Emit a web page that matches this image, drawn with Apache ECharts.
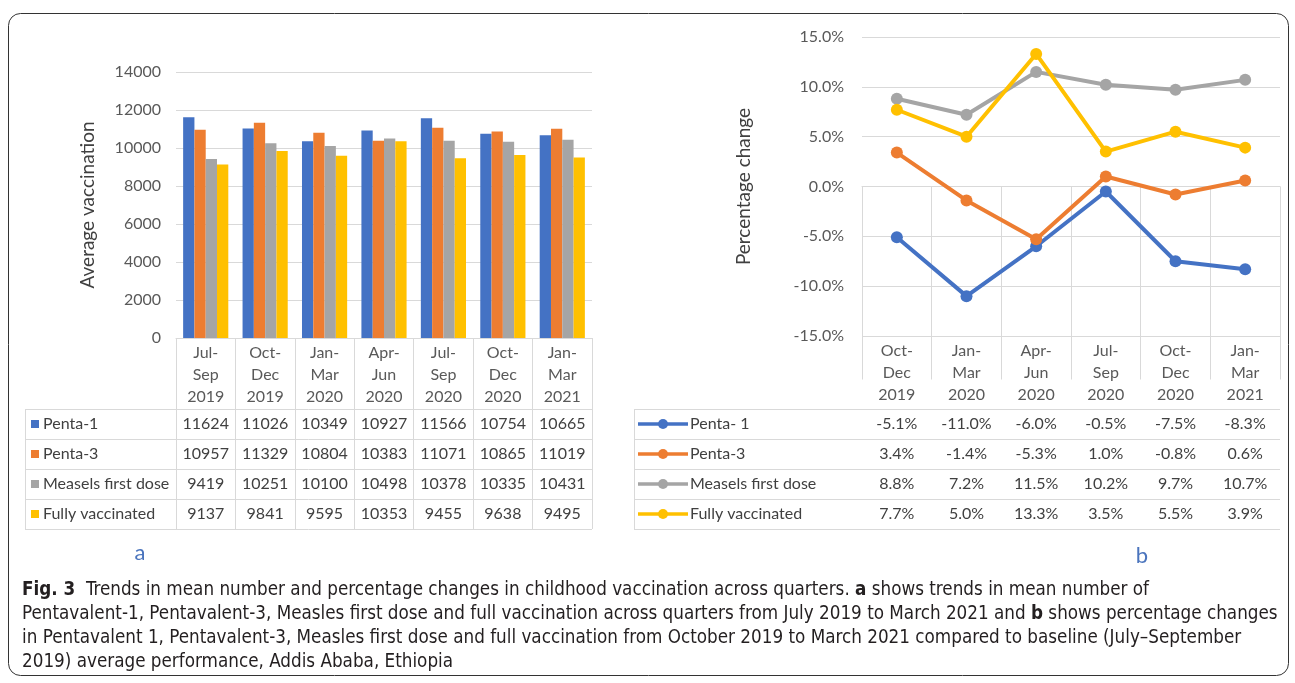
<!DOCTYPE html>
<html><head><meta charset="utf-8">
<script src="https://cdn.jsdelivr.net/npm/echarts@6/dist/echarts.min.js"></script>
<style>html,body{margin:0;padding:0;background:#fff}#c{width:1295px;height:683px}</style>
</head><body><div id="c"></div>
<script>
// ---------- data ----------
const quartersA = ['Jul-Sep 2019','Oct-Dec 2019','Jan-Mar 2020','Apr-Jun 2020','Jul-Sep 2020','Oct-Dec 2020','Jan-Mar 2021'];
const quartersB = ['Oct-Dec 2019','Jan-Mar 2020','Apr-Jun 2020','Jul-Sep 2020','Oct-Dec 2020','Jan-Mar 2021'];
const namesA = ['Penta-1','Penta-3','Measels first dose','Fully vaccinated'];
const namesB = ['Penta- 1','Penta-3','Measels first dose','Fully vaccinated'];
const penta1 = [11624,11026,10349,10927,11566,10754,10665];
const penta3 = [10957,11329,10804,10383,11071,10865,11019];
const measles = [9419,10251,10100,10498,10378,10335,10431];
const fully = [9137,9841,9595,10353,9455,9638,9495];
const penta1Pct = [-5.1,-11.0,-6.0,-0.5,-7.5,-8.3];
const penta3Pct = [3.4,-1.4,-5.3,1.0,-0.8,0.6];
const measlesPct = [8.8,7.2,11.5,10.2,9.7,10.7];
const fullyPct = [7.7,5.0,13.3,3.5,5.5,3.9];
const yTicksA = [0,2000,4000,6000,8000,10000,12000,14000];
const yTicksB = [-15,-10,-5,0,5,10,15];
const captionLines = [
  '{b|Fig. 3}  Trends in mean number and percentage changes in childhood vaccination across quarters. {b|a} shows trends in mean number of',
  'Pentavalent-1, Pentavalent-3, Measles first dose and full vaccination across quarters from July 2019 to March 2021 and {b|b} shows percentage changes',
  'in Pentavalent 1, Pentavalent-3, Measles first dose and full vaccination from October 2019 to March 2021 compared to baseline (July\u2013September',
  '2019) average performance, Addis Ababa, Ethiopia'
];
// ---------- style ----------
const colors = ['#4472C4','#ED7D31','#A5A5A5','#FFC000'];
const FONT = 'Lato';
const CAP_FONT = '"Liberation Sans Narrow", "DejaVu Sans Condensed", sans-serif';
const GRID_COLOR = '#d9d9d9';
const TXT = '#404040';
const LBL = '#595959';
const tickLabel = s => s.replace('-', '-\n').replace(' ', '\n');
const valsA = [penta1, penta3, measles, fully];
const valsB = [penta1Pct, penta3Pct, measlesPct, fullyPct];

const chart = echarts.init(document.getElementById('c'), null, {renderer:'canvas'});

const gridA = {left:176, top:72, width:416, height:266};
const gridB = {left:862, top:37, width:418, height:299};
const tableA = {left:25, rowTop:409, rowH:30};
const tableB = {left:634, rowTop:409, rowH:30};

function xAxisCfg(idx, cats, tickLen){
  return {type:'category', gridIndex:idx, data:cats.map(tickLabel), boundaryGap:true,
    axisLine:{show:true, lineStyle:{color:GRID_COLOR, width:1}},
    axisTick:{show:true, length:tickLen, lineStyle:{color:GRID_COLOR}},
    axisLabel:{margin:4, lineHeight:22, fontSize:16, color:LBL, fontFamily:FONT, interval:0, align:'center'}};
}

const option = {
  animation:false,
  textStyle:{fontFamily:FONT},
  grid:[
    {left:gridA.left, top:gridA.top, width:gridA.width, height:gridA.height, containLabel:false},
    {left:gridB.left, top:gridB.top, width:gridB.width, height:gridB.height, containLabel:false}
  ],
  xAxis:[ xAxisCfg(0, quartersA, 529-338), xAxisCfg(1, quartersB, 529-336) ],
  yAxis:[
    {type:'value', gridIndex:0, min:yTicksA[0], max:yTicksA[yTicksA.length-1], interval:yTicksA[1]-yTicksA[0],
     name:'Average vaccination', nameLocation:'middle', nameRotate:90, nameGap:79,
     nameTextStyle:{fontSize:19, color:TXT, fontFamily:FONT},
     axisLine:{show:false}, axisTick:{show:false},
     axisLabel:{fontSize:16, color:LBL, margin:15, fontFamily:FONT, formatter:v=>String(v)},
     splitLine:{lineStyle:{color:GRID_COLOR}}},
    {type:'value', gridIndex:1, min:yTicksB[0], max:yTicksB[yTicksB.length-1], interval:yTicksB[1]-yTicksB[0],
     name:'Percentage change', nameLocation:'middle', nameRotate:90, nameGap:109,
     nameTextStyle:{fontSize:19, color:TXT, fontFamily:FONT},
     axisLine:{show:false}, axisTick:{show:false},
     axisLabel:{fontSize:16, color:LBL, margin:18, fontFamily:FONT, formatter:v=>v.toFixed(1)+'%'},
     splitLine:{lineStyle:{color:GRID_COLOR}}}
  ],
  series: [
    ...valsA.map((d,i)=>({type:'bar', name:namesA[i], xAxisIndex:0, yAxisIndex:0, data:d,
       itemStyle:{color:colors[i]}, barGap:'0%', barCategoryGap:'24%'})),
    ...valsB.map((d,i)=>({type:'line', name:namesB[i], xAxisIndex:1, yAxisIndex:1, data:d,
       itemStyle:{color:colors[i]}, lineStyle:{width:4, color:colors[i]}, symbol:'circle', symbolSize:12}))
  ]
};
chart.setOption(option);

// ---------- tables, labels, frame, caption (graphic) ----------
const g = [];
g.push({type:'rect', shape:{x:8.5, y:13.5, width:1280, height:662, r:12}, style:{fill:'none', stroke:'#333', lineWidth:1}, z:0});

function buildTable(tbl, gridIdx, names, vals, fmt, marker){
  const right = gridIdx===0 ? gridA.left+gridA.width : gridB.left+gridB.width;
  for(let r=0;r<=names.length;r++){
    const y = Math.round(tbl.rowTop + r*tbl.rowH)+0.5;
    g.push({type:'line', shape:{x1:tbl.left, y1:y, x2:right, y2:y}, style:{stroke:GRID_COLOR, lineWidth:1}});
  }
  const yb = tbl.rowTop + names.length*tbl.rowH;
  g.push({type:'line', shape:{x1:tbl.left+0.5, y1:tbl.rowTop, x2:tbl.left+0.5, y2:yb}, style:{stroke:GRID_COLOR, lineWidth:1}});
  names.forEach((nm,r)=>{
    const cy = tbl.rowTop + r*tbl.rowH + tbl.rowH/2;
    if(marker==='square'){
      g.push({type:'rect', shape:{x:tbl.left+6, y:cy-4, width:8, height:8}, style:{fill:colors[r]}});
      g.push({type:'text', x:tbl.left+18, y:cy, style:{text:nm, fontSize:16, fontFamily:FONT, fill:TXT, verticalAlign:'middle', align:'left'}});
    } else {
      g.push({type:'line', shape:{x1:tbl.left+4, y1:cy, x2:tbl.left+54, y2:cy}, style:{stroke:colors[r], lineWidth:3.5}});
      g.push({type:'circle', shape:{cx:tbl.left+29, cy:cy, r:5}, style:{fill:colors[r]}});
      g.push({type:'text', x:tbl.left+56, y:cy, style:{text:nm, fontSize:16, fontFamily:FONT, fill:TXT, verticalAlign:'middle', align:'left'}});
    }
    vals[r].forEach((v,c)=>{
      const px = chart.convertToPixel({xAxisIndex:gridIdx}, c);
      g.push({type:'text', x:px, y:cy, style:{text:fmt(v), fontSize:16, fontFamily:FONT, fill:TXT, verticalAlign:'middle', align:'center'}});
    });
  });
}
buildTable(tableA, 0, namesA, valsA, v=>String(v), 'square');
buildTable(tableB, 1, namesB, valsB, v=>v.toFixed(1)+'%', 'line');

g.push({type:'text', x:140, y:553, style:{text:'a', fontSize:22, fontFamily:FONT, fill:'#4a74bd', align:'center', verticalAlign:'middle'}});
g.push({type:'text', x:1142, y:556, style:{text:'b', fontSize:22, fontFamily:FONT, fill:'#4a74bd', align:'center', verticalAlign:'middle'}});

g.push({type:'text', x:22, y:578, style:{
  text:captionLines.join('\n'), fontSize:18.7, lineHeight:24, fontFamily:CAP_FONT, fill:'#231f20',
  align:'left', verticalAlign:'top',
  rich:{b:{fontWeight:'bold', fontSize:18.7, lineHeight:24, fontFamily:CAP_FONT, fill:'#231f20'}}
}});

chart.setOption({graphic:g});
</script></body></html>
